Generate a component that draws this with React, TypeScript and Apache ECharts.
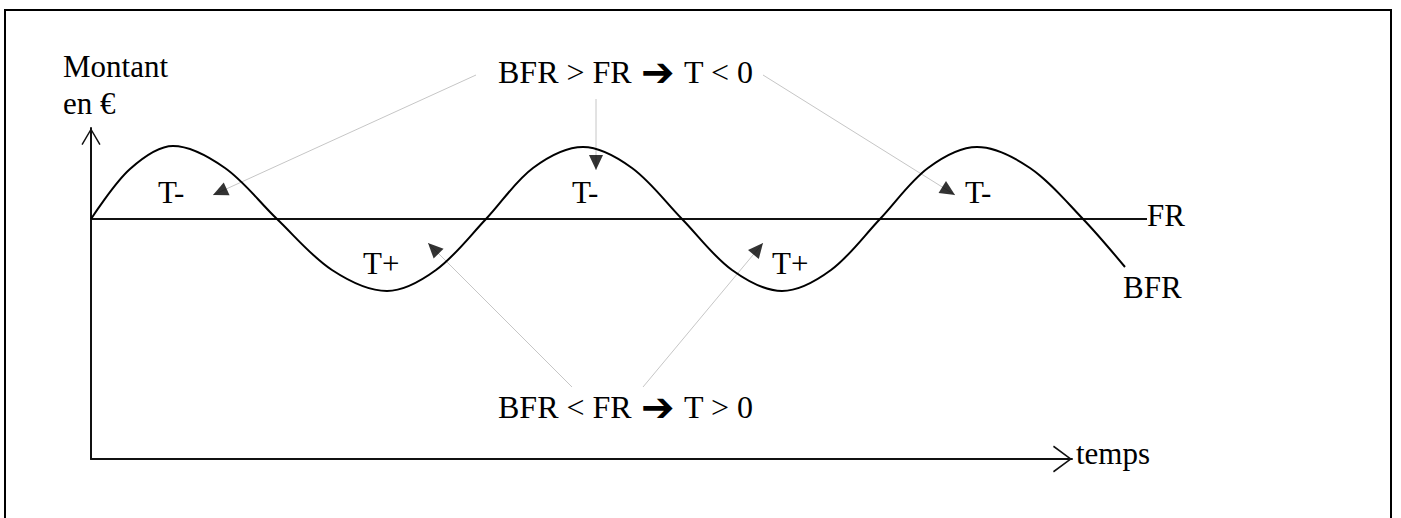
import React, { useEffect, useRef } from "react";
import * as echarts from "echarts";

// Drawn axes (arrows): extents in the same units as the data
const AXIS_X_MAX = 981;
const AXIS_Y_MAX = 331;
// Data area extents (the curves run past the time arrow)
const DATA_X_MAX = 1060;
const DATA_Y_MAX = 384;

// FR (fonds de roulement) : constant level
const FR_LEVEL = 240;
const FR_X = [0, 1056];

// BFR (besoin en fonds de roulement) : oscillating curve
const BFR_X = [0, 39, 82, 134, 186, 241, 296, 345, 395, 442, 492, 541, 591, 641, 691, 740, 789, 837, 886, 939, 992, 1034];
const BFR_Y = [240, 290, 313, 291, 240, 189, 168, 189, 240, 291, 312, 291, 240, 189, 168, 189, 240, 291, 312, 291, 240, 192];

// Annotation pointers (from the caption to the arrow tip)
const NOTE_FROM_X = [385, 505, 672, 481, 552];
const NOTE_FROM_Y = [384, 360, 384, 72, 72];
const NOTE_TO_X = [122, 505, 864, 337, 672];
const NOTE_TO_Y = [264, 289, 264, 216, 216];

// Texts
const Y_TITLE = ["Montant", "en €"];
const X_TITLE = "temps";
const CAPTION_TOP = ["BFR > FR", "➔", "T < 0"];
const CAPTION_BOTTOM = ["BFR < FR", "➔", "T > 0"];
const ZONE_MINUS = "T-";
const ZONE_PLUS = "T+";
const FR_NAME = "FR";
const BFR_NAME = "BFR";

const SERIF = '"Liberation Serif", "Times New Roman", serif';
const FONT = `31px ${SERIF}`;
const CAPTION_FONT = `32px ${SERIF}`;
const ARROW_FONT = '40px "DejaVu Sans", sans-serif';

const X_ARROW = "path://M0.4,18.4 L14,0 L27.6,18.4 L26.3,19.3 L14,2.6 L1.7,19.3 Z";
const Y_ARROW = "path://M0.3,16.4 L10,0 L19.7,16.4 L18.4,17.2 L10,2.9 L1.6,17.2 Z";

const HEAD_W = 14;
const HEAD_H = 15;

function txt(text: string, x: number, y: number, font: string = FONT) {
  return {
    type: "text",
    x,
    y,
    silent: true,
    style: { text, font, fill: "#000", align: "left", verticalAlign: "middle" },
  };
}

function caption(parts: string[], x: number, y: number) {
  return {
    type: "text",
    x,
    y,
    silent: true,
    style: {
      text: `${parts[0]}{a|${parts[1]}}${parts[2]}`,
      font: CAPTION_FONT,
      fill: "#000",
      align: "left",
      verticalAlign: "middle",
      rich: {
        a: { font: ARROW_FONT, width: 52, align: "center", fill: "#000" },
      },
    },
  };
}

const hiddenAxis = {
  show: false,
  axisLine: { show: false },
  axisTick: { show: false },
  axisLabel: { show: false },
  splitLine: { show: false },
};

export default function App() {
  const ref = useRef<HTMLDivElement>(null);

  useEffect(() => {
    if (!ref.current) return;
    const chart = echarts.init(ref.current, undefined, { renderer: "svg" });

    const bfrData = BFR_X.map((x, i) => [x, BFR_Y[i]]);
    const frData = FR_X.map((x) => [x, FR_LEVEL]);

    const noteSeries = NOTE_FROM_X.map((fx, i) => ({
      type: "line",
      xAxisIndex: 0,
      yAxisIndex: 0,
      data: [
        [fx, NOTE_FROM_Y[i]],
        [NOTE_TO_X[i], NOTE_TO_Y[i]],
      ],
      symbol: "none",
      clip: false,
      silent: true,
      z: 1,
      lineStyle: { color: "#c6c6c6", width: 1 },
    }));

    const heads = NOTE_TO_X.map((tx, i) => {
      const dx = tx - NOTE_FROM_X[i];
      const dy = NOTE_TO_Y[i] - NOTE_FROM_Y[i];
      const len = Math.sqrt(dx * dx + dy * dy);
      const ux = dx / len;
      const uy = dy / len;
      const angle = (Math.atan2(dy, dx) * 180) / Math.PI;
      return {
        value: [tx - (ux * HEAD_H) / 2, NOTE_TO_Y[i] - (uy * HEAD_H) / 2],
        symbolRotate: angle - 90,
      };
    });

    const option = {
      animation: false,
      grid: [
        // data area, 1 unit = 1 px on both axes
        { left: 91, right: 1401 - 91 - DATA_X_MAX, top: 459 - DATA_Y_MAX, bottom: 59 },
        // drawn axes with arrows
        { left: 91, right: 1401 - 91 - AXIS_X_MAX, top: 459 - AXIS_Y_MAX, bottom: 59 },
      ],
      xAxis: [
        { type: "value", gridIndex: 0, min: 0, max: DATA_X_MAX, ...hiddenAxis },
        {
          type: "value",
          gridIndex: 1,
          min: 0,
          max: AXIS_X_MAX,
          axisLine: {
            show: true,
            onZero: false,
            symbol: ["none", X_ARROW],
            symbolSize: [28, 19],
            symbolOffset: [0, -9.5],
            lineStyle: { color: "#111", width: 2 },
          },
          axisTick: { show: false },
          axisLabel: { show: false },
          splitLine: { show: false },
        },
      ],
      yAxis: [
        { type: "value", gridIndex: 0, min: 0, max: DATA_Y_MAX, ...hiddenAxis },
        {
          type: "value",
          gridIndex: 1,
          min: 0,
          max: AXIS_Y_MAX,
          axisLine: {
            show: true,
            onZero: false,
            symbol: ["none", Y_ARROW],
            symbolSize: [20, 17],
            symbolOffset: [0, -8.5],
            lineStyle: { color: "#111", width: 2 },
          },
          axisTick: { show: false },
          axisLabel: { show: false },
          splitLine: { show: false },
        },
      ],
      series: [
        ...noteSeries,
        {
          type: "scatter",
          xAxisIndex: 0,
          yAxisIndex: 0,
          data: heads,
          symbol: "triangle",
          symbolSize: [HEAD_W, HEAD_H],
          clip: false,
          silent: true,
          z: 3,
          itemStyle: { color: "#000" },
        },
        {
          type: "line",
          name: FR_NAME,
          xAxisIndex: 0,
          yAxisIndex: 0,
          data: frData,
          symbol: "none",
          clip: false,
          silent: true,
          z: 2,
          lineStyle: { color: "#111", width: 2 },
        },
        {
          type: "line",
          name: BFR_NAME,
          xAxisIndex: 0,
          yAxisIndex: 0,
          data: bfrData,
          smooth: 0.33,
          symbol: "none",
          clip: false,
          silent: true,
          z: 2,
          lineStyle: { color: "#000", width: 2 },
        },
      ],
      graphic: [
        {
          type: "rect",
          silent: true,
          shape: { x: 5, y: 10, width: 1386, height: 600 },
          style: { fill: "none", stroke: "#000", lineWidth: 2 },
        },
        txt(Y_TITLE[0], 63, 66),
        txt(Y_TITLE[1], 63, 103),
        caption(CAPTION_TOP, 498, 72),
        caption(CAPTION_BOTTOM, 498, 407),
        txt(ZONE_MINUS, 158, 192),
        txt(ZONE_MINUS, 572, 192),
        txt(ZONE_MINUS, 965, 192),
        txt(ZONE_PLUS, 363, 263),
        txt(ZONE_PLUS, 772, 263),
        txt(FR_NAME, 1147, 215),
        txt(BFR_NAME, 1123, 287),
        txt(X_TITLE, 1076, 453),
      ],
    };

    chart.setOption(option as any);
    return () => chart.dispose();
  }, []);

  return (
    <div
      ref={ref}
      style={{ position: "fixed", left: 0, top: 0, width: 1401, height: 518, background: "#fff" }}
    />
  );
}
